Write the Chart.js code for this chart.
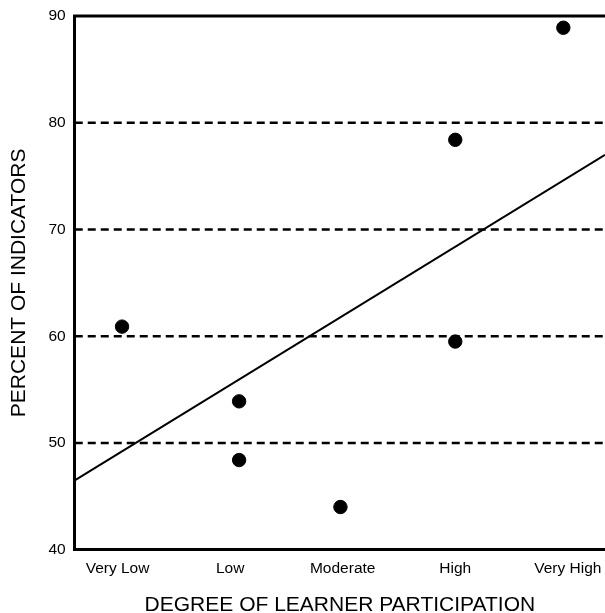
<!DOCTYPE html>
<html>
<head>
<meta charset="utf-8">
<script src="https://cdn.jsdelivr.net/npm/chart.js@4/dist/chart.umd.min.js"></script>
<style>
  html, body { margin: 0; padding: 0; background: #fff; }
  #wrap { width: 605px; height: 613px; }
</style>
</head>
<body>
<div id="wrap"><canvas id="participationChart"></canvas></div>
<script>
// Categories on the x axis
const categories = ['Very Low', 'Low', 'Moderate', 'High', 'Very High'];

// Observed points (x = category position, slightly off centre as in the original)
const pointX = [1.04, 2.08, 2.08, 2.98, 4.0, 4.0, 4.96];
const pointY = [60.9, 53.9, 48.4, 44.0, 78.4, 59.5, 88.9];

// Trend line end points
const trendX = [0.62, 5.33];
const trendY = [46.5, 77.0];

// Y tick values
const yTicks = [40, 50, 60, 70, 80, 90];
const dashedLines = [50, 60, 70, 80];

const font = 'Liberation Sans, Arial, Helvetica, sans-serif';

// Gridlines: dashed inside, solid frame on top
const gridPlugin = {
  id: 'gridPlugin',
  beforeDatasetsDraw(chart) {
    const { ctx, chartArea, scales } = chart;
    ctx.save();
    ctx.strokeStyle = '#000';
    ctx.lineWidth = 2.5;
    ctx.setLineDash([8, 5]);
    dashedLines.forEach(v => {
      const y = scales.y.getPixelForValue(v);
      ctx.beginPath();
      ctx.moveTo(chartArea.left, y);
      ctx.lineTo(chartArea.right, y);
      ctx.stroke();
    });
    ctx.setLineDash([]);
    ctx.lineWidth = 3;
    const top = scales.y.getPixelForValue(90);
    ctx.beginPath();
    ctx.moveTo(chartArea.left - 1.5, top);
    ctx.lineTo(chartArea.right, top);
    ctx.stroke();
    ctx.restore();
  }
};

const ctx = document.getElementById('participationChart').getContext('2d');
const participationChart = new Chart(ctx, {
  type: 'scatter',
  data: {
    datasets: [{
      label: 'Trend',
      type: 'line',
      data: trendX.map((x, i) => ({ x: x, y: trendY[i] })),
      borderColor: '#000',
      borderWidth: 2,
      pointRadius: 0,
      fill: false,
      tension: 0
    }, {
      label: 'Observed',
      data: pointX.map((x, i) => ({ x: x, y: pointY[i] })),
      backgroundColor: '#000',
      borderColor: '#000',
      pointRadius: 6.7,
      pointHoverRadius: 6.7
    }]
  },
  options: {
    responsive: true,
    maintainAspectRatio: false,
    animation: false,
    layout: { autoPadding: false, padding: { top: 16, right: 0, left: 4, bottom: 0 } },
    plugins: {
      legend: { display: false },
      tooltip: { enabled: false }
    },
    scales: {
      x: {
        type: 'linear',
        min: trendX[0],
        max: trendX[1],
        afterBuildTicks: axis => {
          axis.ticks = categories.map((c, i) => ({ value: i + 1 }));
        },
        afterFit: axis => {
          axis.paddingRight = 0;
          axis.paddingLeft = 0;
        },
        ticks: {
          callback: v => categories[v - 1],
          color: '#000',
          font: { family: font, size: 15.5 },
          padding: 10,
          maxRotation: 0
        },
        grid: { display: false, drawTicks: false },
        border: { display: true, color: '#000', width: 3 },
        title: {
          display: true,
          text: 'DEGREE OF LEARNER PARTICIPATION',
          color: '#000',
          font: { family: font, size: 21, lineHeight: 0.7 },
          padding: { top: 10, bottom: 0 }
        }
      },
      y: {
        min: 40,
        max: 90,
        afterBuildTicks: axis => {
          axis.ticks = yTicks.map(v => ({ value: v }));
        },
        afterFit: axis => {
          axis.paddingTop = 0;
        },
        ticks: {
          color: '#000',
          font: { family: font, size: 15.5 },
          padding: 9
        },
        grid: { display: false, drawTicks: false },
        border: { display: true, color: '#000', width: 3 },
        title: {
          display: true,
          text: 'PERCENT OF INDICATORS',
          color: '#000',
          font: { family: font, size: 21, lineHeight: 1 },
          padding: { top: 4.5, bottom: 10 }
        }
      }
    }
  },
  plugins: [gridPlugin]
});
</script>
</body>
</html>
